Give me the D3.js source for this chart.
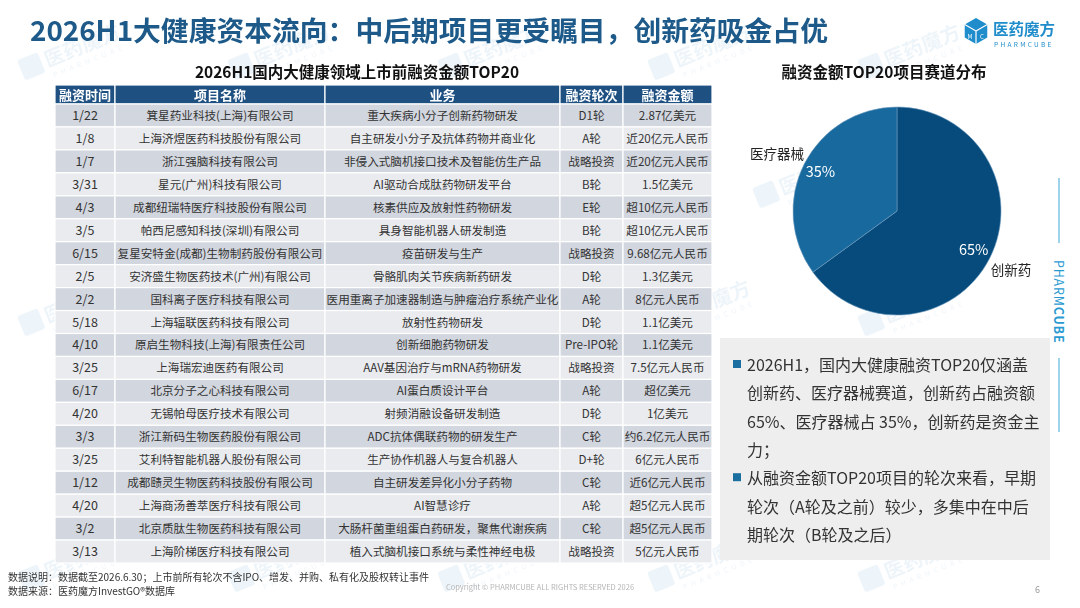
<!DOCTYPE html>
<html>
<head>
<meta charset="utf-8">
<script src="https://cdn.jsdelivr.net/npm/d3@7"></script>
<style>
  body { margin: 0; padding: 0; background: #ffffff; }
  svg { display: block; font-family: "Noto Sans CJK SC", "Noto Sans", sans-serif; }
</style>
</head>
<body>
<svg id="chart" width="1080" height="608"></svg>
<script>
// table data
var headers = ["融资时间", "项目名称", "业务", "融资轮次", "融资金额"];
var dates = ["1/22", "1/8", "1/7", "3/31", "4/3", "3/5", "6/15", "2/5", "2/2", "5/18",
             "4/10", "3/25", "6/17", "4/20", "3/3", "3/25", "1/12", "4/20", "3/2", "3/13"];
var companies = ["箕星药业科技(上海)有限公司", "上海济煜医药科技股份有限公司", "浙江强脑科技有限公司",
  "星元(广州)科技有限公司", "成都纽瑞特医疗科技股份有限公司", "帕西尼感知科技(深圳)有限公司",
  "复星安特金(成都)生物制药股份有限公司", "安济盛生物医药技术(广州)有限公司", "国科离子医疗科技有限公司",
  "上海辐联医药科技有限公司", "原启生物科技(上海)有限责任公司", "上海瑞宏迪医药有限公司",
  "北京分子之心科技有限公司", "无锡帕母医疗技术有限公司", "浙江新码生物医药股份有限公司",
  "艾利特智能机器人股份有限公司", "成都赜灵生物医药科技股份有限公司", "上海商汤善萃医疗科技有限公司",
  "北京质肽生物医药科技有限公司", "上海阶梯医疗科技有限公司"];
var business = ["重大疾病小分子创新药物研发", "自主研发小分子及抗体药物并商业化", "非侵入式脑机接口技术及智能仿生产品",
  "AI驱动合成肽药物研发平台", "核素供应及放射性药物研发", "具身智能机器人研发制造", "疫苗研发与生产",
  "骨骼肌肉关节疾病新药研发", "医用重离子加速器制造与肿瘤治疗系统产业化", "放射性药物研发", "创新细胞药物研发",
  "AAV基因治疗与mRNA药物研发", "AI蛋白质设计平台", "射频消融设备研发制造", "ADC抗体偶联药物的研发生产",
  "生产协作机器人与复合机器人", "自主研发差异化小分子药物", "AI智慧诊疗", "大肠杆菌重组蛋白药研发，聚焦代谢疾病",
  "植入式脑机接口系统与柔性神经电极"];
var rounds = ["D1轮", "A轮", "战略投资", "B轮", "E轮", "B轮", "战略投资", "D轮", "A轮", "D轮",
  "Pre-IPO轮", "战略投资", "A轮", "D轮", "C轮", "D+轮", "C轮", "A轮", "C轮", "战略投资"];
var amounts = ["2.87亿美元", "近20亿元人民币", "近20亿元人民币", "1.5亿美元", "超10亿元人民币", "超10亿元人民币",
  "9.68亿元人民币", "1.3亿美元", "8亿元人民币", "1.1亿美元", "1.1亿美元", "7.5亿元人民币", "超亿美元",
  "1亿美元", "约6.2亿元人民币", "6亿元人民币", "近6亿元人民币", "超5亿元人民币", "超5亿元人民币", "5亿元人民币"];

// pie data
var sectors = ["创新药", "医疗器械"];
var shares = [65, 35];

var notes = [
  ["2026H1，国内大健康融资TOP20仅涵盖", "创新药、医疗器械赛道，创新药占融资额", "65%、医疗器械占 35%，创新药是资金主", "力；"],
  ["从融资金额TOP20项目的轮次来看，早期", "轮次（A轮及之前）较少，多集中在中后", "期轮次（B轮及之后）"]
];

var svg = d3.select("#chart");
var colEdges = [55, 115, 325, 560, 623, 712];
var columns = [dates, companies, business, rounds, amounts];

// faint watermarks, kept inside the page
var wm = svg.append("g").attr("opacity", 0.08);
for (var gy = 0; gy < 5; gy++) {
  for (var gx = 0; gx < 5; gx++) {
    var wx = gx * 210 + (gy % 2 ? 105 : 0) + 50;
    var wy = gy * 128 + 62;
    if (wx > 960) continue;
    var g = wm.append("g").attr("transform", "translate(" + wx + "," + wy + ") rotate(-22)");
    g.append("rect").attr("x", -30).attr("y", -14).attr("width", 22).attr("height", 22).attr("rx", 3).attr("fill", "#2a7fb8");
    g.append("text").attr("x", -4).attr("y", 4).attr("font-size", 20).attr("font-weight", 700).attr("fill", "#2a7fb8").text("医药魔方");
    g.append("text").attr("x", -2).attr("y", 16).attr("font-size", 7).attr("letter-spacing", 4).attr("fill", "#2a7fb8").text("PHARMCUBE");
  }
}

// title
svg.append("text").attr("x", 30).attr("y", 41)
  .attr("font-size", 27.8).attr("font-weight", 700).attr("fill", "#1d5a89")
  .text("2026H1大健康资本流向：中后期项目更受瞩目，创新药吸金占优");

// logo
var logo = svg.append("g").attr("transform", "translate(976,31)");
var hex = d3.range(6).map(function (i) {
  var a = Math.PI / 3 * i - Math.PI / 2;
  return [13 * Math.cos(a), 13 * Math.sin(a)];
});
logo.append("path").attr("d", "M" + hex.join("L") + "Z").attr("fill", "#1f8ccb");
logo.append("path").attr("d", "M0,0L" + hex[1] + "M0,0L" + hex[3] + "M0,0L" + hex[5])
  .attr("stroke", "#ffffff").attr("stroke-width", 1.2).attr("fill", "none");
logo.append("text").attr("x", -6).attr("y", 8).attr("font-size", 6).attr("fill", "#fff").attr("text-anchor", "middle").text("M");
logo.append("text").attr("x", 6).attr("y", 8).attr("font-size", 6).attr("fill", "#fff").attr("text-anchor", "middle").text("C");
svg.append("text").attr("x", 993).attr("y", 35).attr("font-size", 15.5).attr("font-weight", 700)
  .attr("fill", "#1f8ccb").text("医药魔方");
svg.append("text").attr("x", 994).attr("y", 47).attr("font-size", 6.5).attr("letter-spacing", 2.3)
  .attr("fill", "#1f8ccb").text("PHARMCUBE");

// table
svg.append("text").attr("x", 357).attr("y", 78).attr("text-anchor", "middle")
  .attr("font-size", 15.5).attr("font-weight", 700).attr("fill", "#111").text("2026H1国内大健康领域上市前融资金额TOP20");

var y = d3.scaleBand().domain(d3.range(dates.length)).range([104, 563]);
var head = svg.append("g");
headers.forEach(function (h, c) {
  head.append("rect").attr("x", colEdges[c]).attr("y", 85)
    .attr("width", colEdges[c + 1] - colEdges[c]).attr("height", 19)
    .attr("fill", "#1f5082").attr("stroke", "#ffffff").attr("stroke-width", 1.2);
  head.append("text").attr("x", (colEdges[c] + colEdges[c + 1]) / 2).attr("y", 99.5)
    .attr("text-anchor", "middle").attr("font-size", 13).attr("font-weight", 700)
    .attr("fill", "#ffffff").text(h);
});

var rows = svg.append("g").selectAll("g").data(d3.range(dates.length)).join("g")
  .attr("transform", function (i) { return "translate(0," + y(i) + ")"; });
columns.forEach(function (col, c) {
  rows.append("rect").attr("x", colEdges[c]).attr("y", 0)
    .attr("width", colEdges[c + 1] - colEdges[c]).attr("height", y.bandwidth())
    .attr("fill", function (i) { return i % 2 === 0 ? "#d2d6de" : "#e9ebef"; })
    .attr("stroke", "#ffffff").attr("stroke-width", 1.2);
  rows.append("text").attr("x", (colEdges[c] + colEdges[c + 1]) / 2).attr("y", y.bandwidth() / 2 + 4.5)
    .attr("text-anchor", "middle").attr("font-size", c === 0 ? 12.5 : 11.6).attr("fill", "#333333")
    .text(function (i) { return col[i]; });
});

// pie
svg.append("text").attr("x", 884).attr("y", 78).attr("text-anchor", "middle")
  .attr("font-size", 15.5).attr("font-weight", 700).attr("fill", "#111").text("融资金额TOP20项目赛道分布");

var pieColors = d3.scaleOrdinal().domain(sectors).range(["#064b7b", "#17699e"]);
var pie = d3.pie().sort(null).value(function (d) { return d.v; });
var arcs = pie(sectors.map(function (s, i) { return { name: s, v: shares[i] }; }));
var R = 104;
var arc = d3.arc().innerRadius(0).outerRadius(R);
var inner = d3.arc().innerRadius(86).outerRadius(86);
var outer = d3.arc().innerRadius(128).outerRadius(128);
var pg = svg.append("g").attr("transform", "translate(897,211)");
pg.selectAll("path").data(arcs).join("path")
  .attr("d", arc).attr("fill", function (d) { return pieColors(d.data.name); })
  .attr("stroke", "#6f9cbf").attr("stroke-width", 0.6);
pg.selectAll("text.pct").data(arcs).join("text").attr("class", "pct")
  .attr("transform", function (d) { return "translate(" + inner.centroid(d) + ")"; })
  .attr("dy", 5).attr("text-anchor", "middle").attr("font-size", 14.5).attr("fill", "#ffffff")
  .text(function (d) { return d.data.v + "%"; });
pg.selectAll("text.lbl").data(arcs).join("text").attr("class", "lbl")
  .attr("transform", function (d) { return "translate(" + outer.centroid(d) + ")"; })
  .attr("dx", function (d) { return d.data.name === "医疗器械" ? -6 : 0; })
  .attr("dy", 6).attr("text-anchor", "middle").attr("font-size", 13.5).attr("fill", "#222222")
  .text(function (d) { return d.data.name; });

// side brand
svg.append("line").attr("x1", 1059).attr("x2", 1059).attr("y1", 178).attr("y2", 243)
  .attr("stroke", "#3fa6d6").attr("stroke-width", 1);
svg.append("line").attr("x1", 1059).attr("x2", 1059).attr("y1", 358).attr("y2", 432)
  .attr("stroke", "#3fa6d6").attr("stroke-width", 1);
var side = svg.append("text").attr("transform", "translate(1054,260) rotate(90)")
  .attr("font-size", 12.5).attr("letter-spacing", 0.8).attr("fill", "#2a9bd2");
side.append("tspan").text("PHARM");
side.append("tspan").attr("font-weight", 700).text("CUBE");

// notes box
svg.append("rect").attr("x", 720).attr("y", 338).attr("width", 330).attr("height", 222).attr("fill", "#eeeeee");
var lineNo = 0;
notes.forEach(function (para) {
  para.forEach(function (line, k) {
    var by = 371 + lineNo * 28.3;
    if (k === 0) {
      svg.append("rect").attr("x", 733).attr("y", by - 11).attr("width", 8).attr("height", 8).attr("fill", "#1a6ea0");
    }
    svg.append("text").attr("x", 747).attr("y", by).attr("font-size", 16).attr("fill", "#333333").text(line);
    lineNo++;
  });
});

// footer
svg.append("text").attr("x", 8).attr("y", 581).attr("font-size", 10).attr("fill", "#333")
  .text("数据说明：数据截至2026.6.30；上市前所有轮次不含IPO、增发、并购、私有化及股权转让事件");
svg.append("text").attr("x", 8).attr("y", 595).attr("font-size", 10).attr("fill", "#333")
  .text("数据来源：医药魔方InvestGO®数据库");
svg.append("text").attr("x", 540).attr("y", 590).attr("text-anchor", "middle").attr("font-size", 7.5)
  .attr("fill", "#b5b5b5").text("Copyright © PHARMCUBE ALL RIGHTS RESERVED 2026");
svg.append("text").attr("x", 1035).attr("y", 593).attr("font-size", 9).attr("fill", "#999").text("6");
</script>
</body>
</html>
